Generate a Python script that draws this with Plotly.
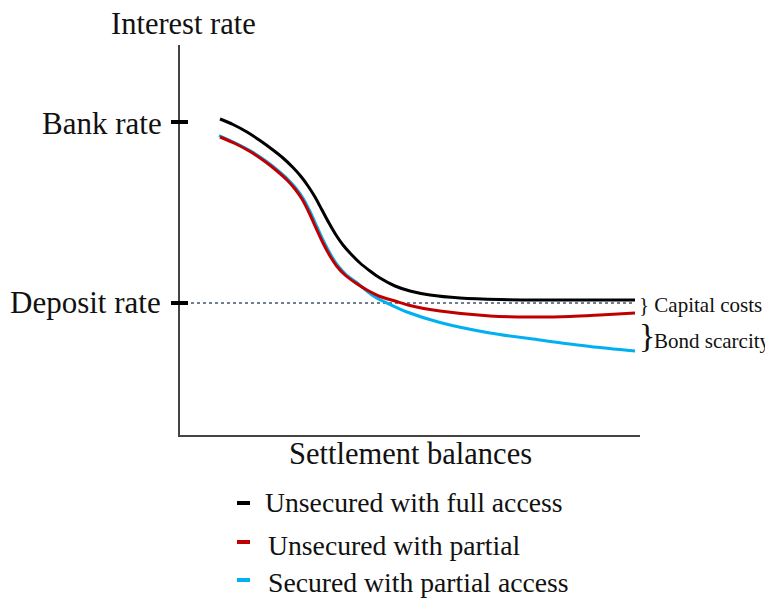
import plotly.graph_objects as go

# schematic curves (x = balances, y = rate, arbitrary units)
full_x = [40, 53, 67, 80, 93, 103, 113, 121, 128, 135, 142, 149, 156, 163, 170, 180, 190, 200, 215, 230, 250, 280, 320, 380, 455]
full_y = [316, 310.5, 303, 294.5, 285, 277, 267.5, 258.5, 249, 238, 225, 212, 200, 190, 182, 172, 164, 157, 149, 144, 140, 137, 135.5, 135, 135]

partial_x = [40, 55, 70, 85, 97, 107, 115, 122, 129, 136, 143, 150, 157, 165, 175, 187, 200, 215, 230, 260, 310, 350, 390, 420, 455]
partial_y = [298, 291.5, 283.5, 273.5, 264, 255, 246, 236, 222.5, 207, 192, 179, 168.5, 160, 152.5, 145, 138.5, 134, 129.5, 124, 119, 118, 118.5, 120, 122]

secured_x = [39, 56.5, 71.5, 86.5, 98.5, 108.5, 116.5, 123.5, 130.5, 137.5, 144.5, 151.5, 158.5, 166.5, 176.5, 185, 195, 210, 227, 260, 310, 360, 410, 455]
secured_y = [299.5, 291.5, 283.5, 273.5, 264, 255, 246, 236, 222.5, 207, 192, 179, 168.5, 160, 152.5, 145.5, 138, 130.5, 123, 112.5, 102, 95, 88.5, 84]

bank_rate = 313
deposit_rate = 132
deposit_x = [5, 455]

names = ["Unsecured with full access", "Unsecured with partial", "Secured with partial access"]
colors = ["#000000", "#c00000", "#00b0f0"]

FONT = "Liberation Serif, Times New Roman, serif"

# the page body adds an 8px margin, so the figure is drawn 8px smaller
# plot area in page pixels: x 180..640, y 45..435
def px(x):
    return (x - 180) / 460

def py(y):
    return (435 - y) / 390

fig = go.Figure()

fig.add_trace(go.Scatter(
    x=deposit_x, y=[deposit_rate, deposit_rate], mode="lines",
    line=dict(color="#44546a", width=1.5, dash="dot"), showlegend=False
))

for xs, ys, c in [(secured_x, secured_y, colors[2]),
                  (partial_x, partial_y, colors[1]),
                  (full_x, full_y, colors[0])]:
    fig.add_trace(go.Scatter(
        x=xs, y=ys, mode="lines",
        line=dict(color=c, width=3, shape="spline", smoothing=0.8),
        showlegend=False
    ))

shapes = []
# tick marks crossing the y axis
for v in [bank_rate, deposit_rate]:
    shapes.append(dict(type="line", xref="paper", yref="paper",
                       x0=px(171), x1=px(188), y0=v / 390, y1=v / 390,
                       line=dict(color="black", width=4)))

# hand-made legend dashes
for c, yy in zip(colors, [503, 542, 580]):
    shapes.append(dict(type="line", xref="paper", yref="paper",
                       x0=px(237), x1=px(250), y0=py(yy), y1=py(yy),
                       line=dict(color=c, width=4)))

annotations = [
    dict(text="Interest rate", x=px(183), y=py(24), size=30.5, xanchor="center"),
    dict(text="Bank rate", x=px(164), y=py(124), size=31, xanchor="right"),
    dict(text="Deposit rate", x=px(163), y=py(302), size=31, xanchor="right"),
    dict(text="Settlement balances", x=px(410), y=py(454), size=30.5, xanchor="center"),
    dict(text=names[0], x=px(263), y=py(502), size=27.7, xanchor="left"),
    dict(text=names[1], x=px(266), y=py(545), size=27.7, xanchor="left"),
    dict(text=names[2], x=px(266), y=py(582), size=27.7, xanchor="left"),
    dict(text="} Capital costs", x=px(637), y=py(305), size=21, xanchor="left"),
    dict(text="}", x=px(637), y=py(335), size=34, xanchor="left"),
    dict(text="Bond scarcity", x=px(652), y=py(341), size=21, xanchor="left"),
]

fig.update_layout(
    width=765, height=592,
    margin=dict(l=172, r=133, t=37, b=165),
    paper_bgcolor="white", plot_bgcolor="white",
    shapes=shapes,
    annotations=[dict(text=a["text"], x=a["x"], y=a["y"], xref="paper", yref="paper",
                      xanchor=a["xanchor"], yanchor="middle", showarrow=False,
                      font=dict(family=FONT, size=a["size"], color="#111111"))
                 for a in annotations],
    xaxis=dict(range=[0, 460], showgrid=False, zeroline=False, showticklabels=False,
               ticks="", showline=True, linecolor="#444444", linewidth=2, fixedrange=True),
    yaxis=dict(range=[0, 390], showgrid=False, zeroline=False, showticklabels=False,
               ticks="", showline=True, linecolor="#444444", linewidth=2, fixedrange=True),
)

fig.write_html("out.html")
